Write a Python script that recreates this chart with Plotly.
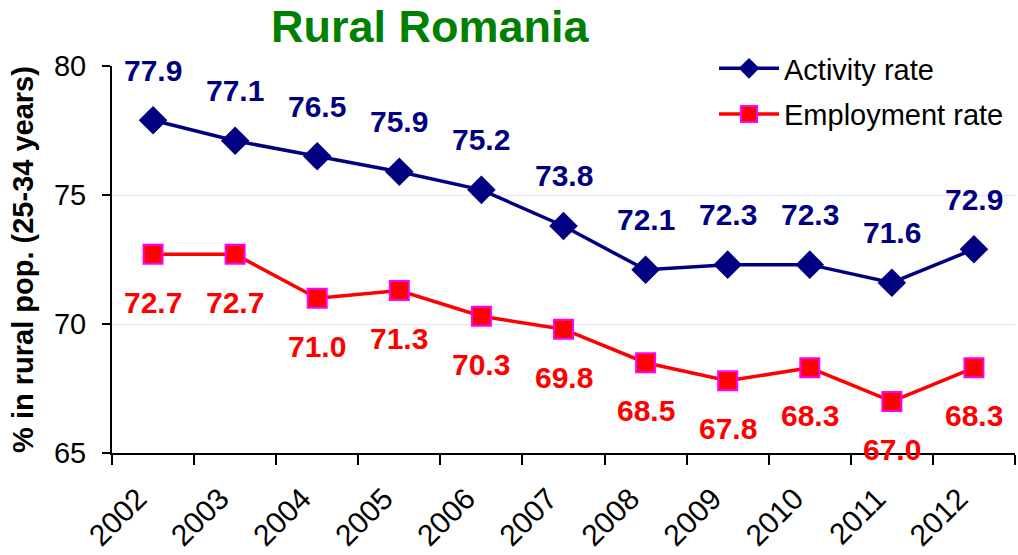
import plotly.graph_objects as go

years = ["2002", "2003", "2004", "2005", "2006", "2007", "2008", "2009", "2010", "2011", "2012"]
activity = [77.9, 77.1, 76.5, 75.9, 75.2, 73.8, 72.1, 72.3, 72.3, 71.6, 72.9]
employment = [72.7, 72.7, 71.0, 71.3, 70.3, 69.8, 68.5, 67.8, 68.3, 67.0, 68.3]
y_ticks = [65, 70, 75, 80]

FONT = "Liberation Sans, Arial, sans-serif"
NAVY = "#000080"
RED = "#ff0000"

fig = go.Figure()
fig.add_trace(go.Scatter(
    x=years, y=activity, name="Activity rate", mode="lines+markers",
    line=dict(color=NAVY, width=3.5),
    marker=dict(symbol="diamond", size=22, color=NAVY, line=dict(width=0)),
    legendgroup="a",
))
fig.add_trace(go.Scatter(
    x=years, y=employment, name="Employment rate", mode="lines+markers",
    line=dict(color=RED, width=3.5),
    marker=dict(symbol="square", size=19, color=RED, line=dict(color="#ff00ff", width=2)),
    legendgroup="b",
))

# category axis: annotation x given as category index
for i, yv in enumerate(activity):
    fig.add_annotation(x=i, y=yv, text=f"<b>{yv:.1f}</b>", showarrow=False, yshift=50,
                       font=dict(family=FONT, size=30, color=NAVY))
for i, yv in enumerate(employment):
    fig.add_annotation(x=i, y=yv, text=f"<b>{yv:.1f}</b>", showarrow=False, yshift=-48,
                       font=dict(family=FONT, size=30, color=RED))

fig.add_annotation(xref="paper", yref="paper", x=(430 - 112) / 903, y=1 + 66 / 387,
                   text="<b>Rural Romania</b>", showarrow=False, borderpad=0,
                   font=dict(family=FONT, size=45, color="#008000"), yanchor="top", xanchor="center")

fig.update_layout(
    width=1018, height=555,
    margin=dict(l=112, r=3, t=66, b=102, autoexpand=False),
    paper_bgcolor="white", plot_bgcolor="white",
    font=dict(family=FONT, size=29, color="black"),
    showlegend=True,
    legend=dict(x=(714 - 112) / 903, y=1 + (66 - 43) / 387, xanchor="left", yanchor="top",
                font=dict(family=FONT, size=29, color="black"),
                bgcolor="rgba(0,0,0,0)", tracegroupgap=5, itemwidth=60),
    xaxis=dict(type="category", tickson="boundaries", ticks="outside", ticklen=10,
               tickwidth=2, tickcolor="black", showline=True, linecolor="black", linewidth=2,
               tickangle=-45, showgrid=False, ticklabelstandoff=14, ticklabelshift=-15,
               automargin=False,
               tickfont=dict(family=FONT, size=30, color="black"), range=[-0.5, 10.5]),
    yaxis=dict(range=[65, 80], tickvals=y_ticks, ticks="outside", ticklen=8, tickwidth=2,
               tickcolor="black", showline=True, linecolor="black", linewidth=2,
               showgrid=True, gridcolor="#e0e0ff", gridwidth=1, zeroline=False,
               automargin=False,
               tickfont=dict(family=FONT, size=29, color="black"), ticklabelstandoff=10,
               title=dict(text="<b>% in rural pop. (25-34 years)</b>",
                          font=dict(family=FONT, size=29, color="black"), standoff=12)),
)

fig.write_html("out.html", config={"displayModeBar": False},
               post_script="document.body.style.margin='0';document.body.style.overflow='hidden';")
